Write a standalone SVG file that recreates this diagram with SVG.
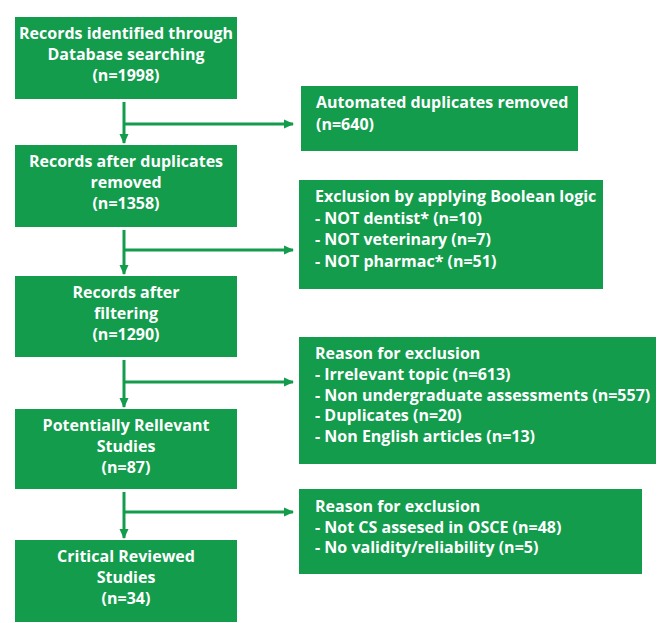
<svg xmlns="http://www.w3.org/2000/svg" width="657" height="623" viewBox="0 0 657 623">
<style>
.box{fill:#129c4c}
.t{font-family:"Open Sans",Lato,"Liberation Sans",sans-serif;font-weight:bold;font-size:16px;fill:#ffffff}
.c{text-anchor:middle}
.ln{stroke:#129c4c;stroke-width:3;fill:none}
</style>
<defs>
<marker id="ah" markerUnits="userSpaceOnUse" markerWidth="10" markerHeight="10" viewBox="0 0 10 10" refX="9" refY="5" orient="auto">
<path d="M0,0.5 L10,5 L0,9.5 Z" fill="#129c4c"/>
</marker>
</defs>
<rect width="657" height="623" fill="#ffffff"/>
<g id="connectors">
<path class="ln" d="M124,102 V143" marker-end="url(#ah)"/>
<path class="ln" d="M124,124 H293" marker-end="url(#ah)"/>
<path class="ln" d="M124,230 V274" marker-end="url(#ah)"/>
<path class="ln" d="M124,250 H293" marker-end="url(#ah)"/>
<path class="ln" d="M124,360 V407" marker-end="url(#ah)"/>
<path class="ln" d="M124,382 H293" marker-end="url(#ah)"/>
<path class="ln" d="M124,492 V538" marker-end="url(#ah)"/>
<path class="ln" d="M124,512 H293" marker-end="url(#ah)"/>
</g>
<g id="n1"><rect class="box" x="15" y="17" width="222" height="82"/>
<text class="t c" x="126" y="39">Records identified through</text>
<text class="t c" x="126" y="60">Database searching</text>
<text class="t c" x="126" y="81">(n=1998)</text></g>
<g id="n2"><rect class="box" x="15" y="145" width="222" height="82"/>
<text class="t c" x="126" y="167">Records after duplicates</text>
<text class="t c" x="126" y="188">removed</text>
<text class="t c" x="126" y="209">(n=1358)</text></g>
<g id="n3"><rect class="box" x="15" y="276" width="222" height="81"/>
<text class="t c" x="126" y="298">Records after</text>
<text class="t c" x="126" y="319">filtering</text>
<text class="t c" x="126" y="340">(n=1290)</text></g>
<g id="n4"><rect class="box" x="15" y="409" width="222" height="80"/>
<text class="t c" x="126" y="431">Potentially Rellevant</text>
<text class="t c" x="126" y="452">Studies</text>
<text class="t c" x="126" y="473">(n=87)</text></g>
<g id="n5"><rect class="box" x="15" y="540" width="222" height="82"/>
<text class="t c" x="126" y="562">Critical Reviewed</text>
<text class="t c" x="126" y="583">Studies</text>
<text class="t c" x="126" y="604">(n=34)</text></g>
<g id="r1"><rect class="box" x="301" y="86" width="277" height="65"/>
<text class="t" x="316" y="108">Automated duplicates removed</text>
<text class="t" x="316" y="130">(n=640)</text></g>
<g id="r2"><rect class="box" x="299" y="180" width="304" height="109"/>
<text class="t" x="315" y="202">Exclusion by applying Boolean logic</text>
<text class="t" x="315" y="224">- NOT dentist* (n=10)</text>
<text class="t" x="315" y="245">- NOT veterinary (n=7)</text>
<text class="t" x="315" y="267">- NOT pharmac* (n=51)</text></g>
<g id="r3"><rect class="box" x="299" y="337" width="357" height="127"/>
<text class="t" x="315" y="359">Reason for exclusion</text>
<text class="t" x="315" y="380">- Irrelevant topic (n=613)</text>
<text class="t" x="315" y="401">- Non undergraduate assessments (n=557)</text>
<text class="t" x="315" y="421">- Duplicates (n=20)</text>
<text class="t" x="315" y="442">- Non English articles (n=13)</text></g>
<g id="r4"><rect class="box" x="299" y="489" width="343" height="85"/>
<text class="t" x="315" y="512">Reason for exclusion</text>
<text class="t" x="315" y="533">- Not CS assesed in OSCE (n=48)</text>
<text class="t" x="315" y="553">- No validity/reliability (n=5)</text></g>
</svg>
